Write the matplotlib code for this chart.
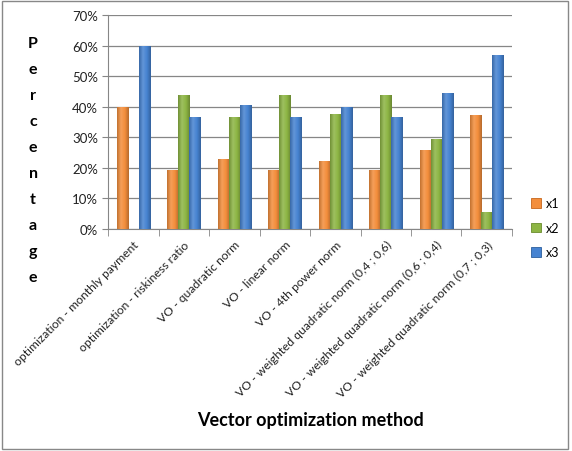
import numpy as np
import matplotlib
matplotlib.use("Agg")
import matplotlib.pyplot as plt
from matplotlib.patches import Rectangle
from matplotlib.colors import LinearSegmentedColormap, to_rgb

# data
methods = ["optimization - monthly payment",
           "optimization - riskiness ratio",
           "VO - quadratic norm",
           "VO - linear norm",
           "VO - 4th power norm",
           "VO - weighted quadratic norm (0,4 ; 0,6)",
           "VO - weighted quadratic norm (0,6 ; 0,4)",
           "VO - weighted quadratic norm (0,7 ; 0,3)"]
x1 = [40.0, 19.3, 22.8, 19.3, 22.4, 19.3, 26.0, 37.2]
x2 = [0.0, 43.8, 36.6, 43.8, 37.5, 43.8, 29.3, 5.6]
x3 = [60.0, 36.6, 40.4, 36.6, 39.9, 36.6, 44.4, 56.8]
series_names = ["x1", "x2", "x3"]
yticks = [0, 10, 20, 30, 40, 50, 60, 70]

colors = ["#F38E3C", "#8DB544", "#4683D1"]
edges = ["#C8661A", "#6A8C2C", "#2B5E9E"]


def shade(c, f):
    r, g, b = to_rgb(c)
    if f > 1:
        return (r + (1 - r) * (f - 1), g + (1 - g) * (f - 1), b + (1 - b) * (f - 1))
    return (r * f, g * f, b * f)


plt.rcParams['font.family'] = ['Lato', 'DejaVu Sans']

fig = plt.figure(figsize=(5.72, 4.52), dpi=100)
W, H = 572, 452
ax = fig.add_axes([108 / W, 1 - 230 / H, 404 / W, 214 / H])

n = len(methods)
xs = np.arange(n)
bw = 0.22
grad = np.linspace(0, 1, 64).reshape(1, -1)
for k, vals in enumerate([x1, x2, x3]):
    bars = ax.bar(xs + (k - 1) * bw, vals, width=bw, color=colors[k],
                  edgecolor=edges[k], linewidth=0.6, label=series_names[k],
                  zorder=3)
    # cylinder-like shading across each bar
    cmap = LinearSegmentedColormap.from_list(
        "c%d" % k, [shade(colors[k], 0.8), shade(colors[k], 1.15),
                    colors[k], shade(colors[k], 0.75)])
    for b in bars:
        if b.get_height() <= 0:
            continue
        im = ax.imshow(grad, cmap=cmap, aspect="auto", zorder=3.5,
                       extent=(b.get_x(), b.get_x() + b.get_width(),
                               0, b.get_height()))
        im.set_clip_path(b)

ax.set_xlim(-0.5, n - 0.5)
ax.set_ylim(0, 70)
ax.set_yticks(yticks)
ax.set_yticklabels([f"{t}%" for t in yticks], fontsize=9.5, color="#222222")
ax.yaxis.grid(True, color="#868686", linewidth=0.9, zorder=0)
ax.set_axisbelow(True)

ax.set_xticks(xs)
ax.set_xticklabels(methods, rotation=45, ha="right", rotation_mode="anchor",
                   fontsize=8.7, color="#222222")
ax.tick_params(axis="x", length=0, pad=7)
ax.set_xticks(np.arange(-0.5, n), minor=True)
ax.tick_params(axis="x", which="minor", length=5, color="#868686")
ax.tick_params(axis="y", length=4, color="#868686", pad=3)

for s in ["top", "right"]:
    ax.spines[s].set_visible(False)
for s in ["left", "bottom"]:
    ax.spines[s].set_color("#868686")

ax.set_xlabel("Vector optimization method", fontsize=13, fontweight="bold")
ax.xaxis.set_label_coords(0.5, -0.85)

# stacked y label
for i, ch in enumerate("Percentage"):
    fig.text(33 / W, 1 - (48 + i * 26) / H, ch, fontsize=11.5,
             fontweight="bold", ha="center", va="baseline")

leg = ax.legend(loc="upper left", bbox_to_anchor=(1.02, 0.2), frameon=False,
                fontsize=9, handlelength=0.8, handleheight=0.8,
                labelspacing=1.0, handletextpad=0.4)

fig.patches.append(Rectangle((2 / W, 2 / H), 566 / W, 448 / H,
                             transform=fig.transFigure, fill=False,
                             edgecolor="#888888", linewidth=1))

fig.savefig("out.png", dpi=100)
